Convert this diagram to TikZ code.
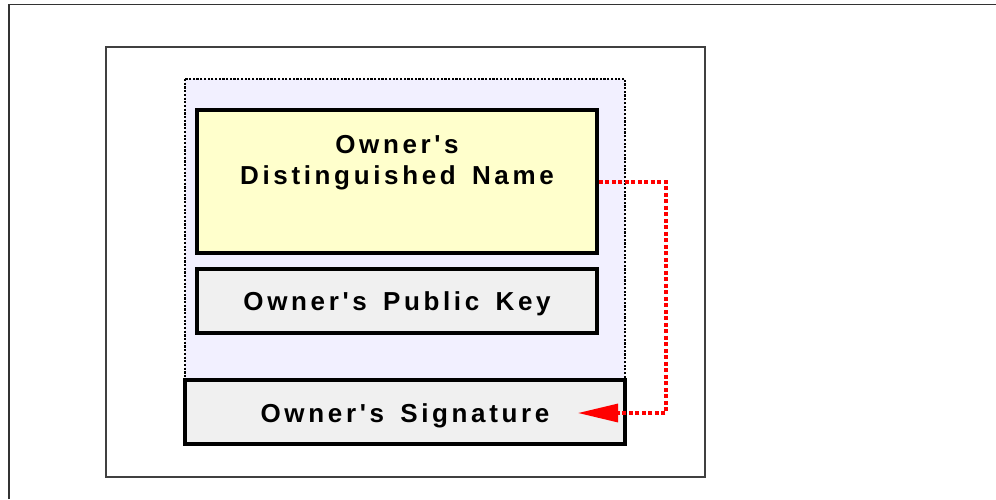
\documentclass[tikz,border=0pt]{standalone}
\usepackage{fontspec}
\setmainfont{Liberation Sans}
\newfontfamily\lblfont{Liberation Sans}[LetterSpace=14,WordSpace=1.5]
\usetikzlibrary{arrows.meta}
\definecolor{lavender}{HTML}{F2F0FF}
\definecolor{paleyellow}{HTML}{FFFFCC}
\definecolor{palegray}{HTML}{F0F0F0}
\tikzset{
  fieldbox/.style={draw=black, line width=3.5pt, minimum width=400pt, inner sep=0pt},
  lbl/.style={font=\lblfont\bfseries\fontsize{26}{31}\selectfont, align=center, inner sep=0pt},
  sigline/.style={red, line width=3.2pt, dash pattern=on 4pt off 2.5pt,
    -{Triangle[length=40pt,width=18pt]}}
}
\begin{document}
\begin{tikzpicture}[x=1pt,y=-1pt]
  \useasboundingbox (0,0) rectangle (996,499);
  % frames
  \draw[line width=1.5pt, black!80] (9,499) -- (9,4.5) -- (996,4.5);
  \draw[line width=1.3pt, black!75] (106,47) rectangle (705,477);
  % certificate body
  \fill[lavender] (185,79) rectangle (625,445);
  \node[fieldbox, fill=paleyellow, minimum height=143pt] (dn) at (397,181.5) {};
  \node[lbl] (dntext) at (397,162.5) {Owner's\\Distinguished Name};
  \node[fieldbox, fill=palegray, minimum height=64pt] (key) at (397,301) {};
  \node[lbl] (keytext) at (397,304) {Owner's Public Key};
  \node[fieldbox, fill=palegray, minimum width=440pt, minimum height=64pt] (sig) at (405,412) {};
  \node[lbl] (sigtext) at (405,416) {Owner's Signature};
  \draw[line width=1.8pt, dash pattern=on 2.2pt off 1.5pt] (185,79) rectangle (625,445);
  % signing arrow
  \coordinate (bend1) at (666,182);
  \coordinate (bend2) at (666,413);
  \coordinate (sigtip) at (578,413);
  \draw[sigline] (dn.east |- bend1) -- (bend1) -- (bend2) -- (sigtip);
\end{tikzpicture}
\end{document}
